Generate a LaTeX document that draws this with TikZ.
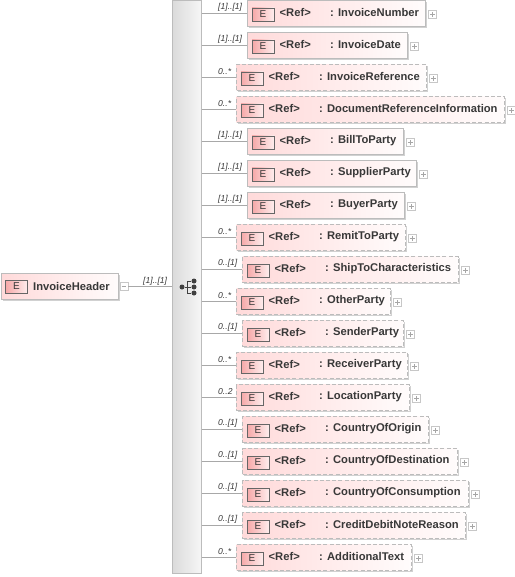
\documentclass[tikz,border=0pt]{standalone}
\usepackage{fontspec}
\setmainfont{Liberation Sans}
\usetikzlibrary{shadows,positioning}

\definecolor{boxleft}{HTML}{FFDADA}
\definecolor{boxright}{HTML}{FFFCFC}
\definecolor{eleft}{HTML}{F6A8A8}
\definecolor{eright}{HTML}{FEEDED}
\definecolor{edge}{HTML}{BCBCBC}
\definecolor{wire}{HTML}{A8A8A8}
\definecolor{ink}{HTML}{383838}
\definecolor{barleft}{HTML}{DADADA}
\definecolor{barright}{HTML}{F6F6F6}

\tikzset{
  elemsolid/.style={draw=edge,line width=1pt,left color=boxleft,right color=boxright,
    minimum height=26pt,anchor=west,inner sep=0pt,
    drop shadow={shadow xshift=1.2pt,shadow yshift=-1.2pt,fill=black,opacity=0.18}},
  elemdash/.style={elemsolid,line width=1.1pt,dash pattern=on 4pt off 2.2pt},
  ebox/.style={draw=black!60,line width=0.7pt,left color=eleft,right color=eright,
    minimum width=22pt,minimum height=13pt,inner sep=0pt,
    font=\fontsize{10}{11}\selectfont,text=ink},
  reftext/.style={anchor=west,inner sep=0pt,font=\fontsize{11.2}{12}\selectfont\bfseries,text=ink},
  cardtext/.style={anchor=west,inner sep=0pt,font=\fontsize{8.6}{10}\selectfont\itshape,text=ink},
  toggle/.style={draw=black!22,line width=0.6pt,fill=white,minimum size=8pt,inner sep=0pt,anchor=west},
  dot/.style={circle,fill=black!75,minimum size=5pt,inner sep=0pt},
  wireline/.style={draw=wire,line width=0.8pt}
}

\begin{document}
\begin{tikzpicture}[x=1pt,y=-1pt]
  \useasboundingbox (0,0) rectangle (514,577);

  % Sequence bar
  \node[draw=edge,line width=1pt,left color=barleft,right color=barright,
    minimum width=29pt,minimum height=572pt,inner sep=0pt,
    drop shadow={shadow xshift=1.2pt,shadow yshift=-1.2pt,fill=black,opacity=0.18}]
    (seq) at (186.5,287) {};

  % Sequence icon
  \node[dot] (hub) at (182,287) {};
  \node[dot] (hubA) at (194,281) {};
  \node[dot] (hubB) at (194,287) {};
  \node[dot] (hubC) at (194,293) {};
  \coordinate (hubK) at (187.5,287);
  \draw[black!75,line width=1pt] (hub) -- (hubB);
  \draw[black!75,line width=1pt] (hubA) -| (hubK) |- (hubC);

  % Root element
  \node[elemsolid,minimum width=117pt] (root) at (1,286.5) {};
  \node[ebox] (rootE) at ([xshift=15.5pt]root.west) {E};
  \node[reftext] (rootName) at ([xshift=32pt,yshift=0.5pt]root.west) {InvoiceHeader};
  \node[toggle,path picture={\draw[black!35,line width=0.5pt]
    ([xshift=-2.2pt]path picture bounding box.center) -- ([xshift=2.2pt]path picture bounding box.center);}]
    (rootT) at ([xshift=0.5pt]root.east) {};
  \draw[wireline] (rootT.east) -- (seq.west |- rootT.east);
  \node[cardtext] (rootC) at (143,281) {[1]..[1]};

  % Child elements
  \foreach \kind/\bx/\ex/\card/\tname [count=\row from 0] in {
    elemsolid/247/425/{[1]..[1]}/InvoiceNumber,
    elemsolid/247/407/{[1]..[1]}/InvoiceDate,
    elemdash/236/426/{0..*}/InvoiceReference,
    elemdash/236/504/{0..*}/DocumentReferenceInformation,
    elemsolid/247/403/{[1]..[1]}/BillToParty,
    elemsolid/247/416/{[1]..[1]}/SupplierParty,
    elemsolid/247/404/{[1]..[1]}/BuyerParty,
    elemdash/236/405/{0..*}/RemitToParty,
    elemdash/242/458/{0..[1]}/ShipToCharacteristics,
    elemdash/236/390/{0..*}/OtherParty,
    elemdash/242/403/{0..[1]}/SenderParty,
    elemdash/236/407/{0..*}/ReceiverParty,
    elemdash/236/409/{0..2}/LocationParty,
    elemdash/242/428/{0..[1]}/CountryOfOrigin,
    elemdash/242/457/{0..[1]}/CountryOfDestination,
    elemdash/242/468/{0..[1]}/CountryOfConsumption,
    elemdash/242/465/{0..[1]}/CreditDebitNoteReason,
    elemdash/236/411/{0..*}/AdditionalText} {
    \pgfmathsetmacro{\rowy}{13.5+32*\row}
    \pgfmathsetmacro{\boxw}{\ex-\bx}
    \node[\kind,minimum width=\boxw pt] (b\row) at (\bx,\rowy) {};
    \node[ebox] (e\row) at ([xshift=16pt,yshift=-1pt]b\row.west) {E};
    \node[reftext] (r\row) at ([xshift=32.5pt,yshift=1pt]b\row.west) {<Ref>};
    \node[reftext] (n\row) at ([xshift=83pt,yshift=1pt]b\row.west) {: \tname};
    \node[toggle,path picture={
      \draw[black!35,line width=0.5pt]
        ([xshift=-2.2pt]path picture bounding box.center) -- ([xshift=2.2pt]path picture bounding box.center);
      \draw[black!35,line width=0.5pt]
        ([yshift=-2.2pt]path picture bounding box.center) -- ([yshift=2.2pt]path picture bounding box.center);}]
      (t\row) at ([xshift=2pt,yshift=-1pt]b\row.east) {};
    \draw[wireline] (seq.east |- b\row.west) -- (b\row.west);
    \node[cardtext] (c\row) at (218,\rowy-6) {\card};
  }

\end{tikzpicture}
\end{document}
